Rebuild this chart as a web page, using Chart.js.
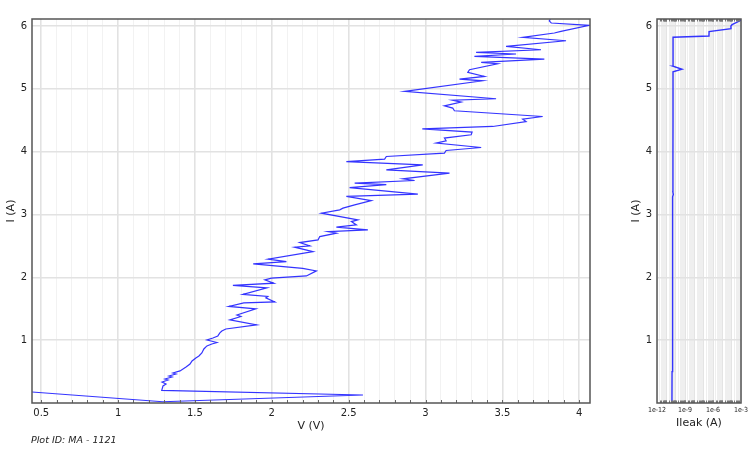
<!DOCTYPE html>
<html><head><meta charset="utf-8">
<script src="https://cdn.jsdelivr.net/npm/chart.js@4.4.1/dist/chart.umd.min.js"></script>
<style>
html,body{margin:0;padding:0;background:#fff;}
body{width:753px;height:449px;position:relative;overflow:hidden;font-family:"DejaVu Sans",sans-serif;}
#c1{position:absolute;left:0;top:0;}
#c2{position:absolute;left:620px;top:0;}
#pid{position:absolute;left:31px;top:435px;font-style:italic;font-size:9.5px;line-height:10px;color:#222;white-space:nowrap;}
</style></head><body>
<canvas id="c1" width="600" height="449"></canvas>
<canvas id="c2" width="133" height="449"></canvas>
<div id="pid">Plot ID: MA - 1121</div>
<script>
// ---- data ----
const voltage = [0.44,1.29,2.593,1.284,
 1.292,1.312,1.286,1.325,1.305,1.351,1.331,1.377,1.357,1.403,
 1.442,1.468,1.481,1.506,1.526,1.545,1.558,1.578,1.610,1.643,
 1.578,1.617,1.649,1.662,1.675,1.701,1.901,1.727,1.799,1.773,
 1.896,1.721,1.818,2.019,1.961,1.974,1.812,1.968,1.747,2.013,
 1.955,1.998,2.225,2.290,2.201,1.879,2.095,1.976,2.268,2.149,
 2.247,2.182,2.301,2.312,2.420,2.366,2.625,2.420,2.550,2.518,
 2.560,2.323,2.442,2.463,2.539,2.647,2.485,2.950,2.506,2.745,
 2.539,2.929,2.853,3.156,2.745,2.982,2.485,2.734,2.745,3.123,
 3.134,3.362,3.069,3.134,3.123,3.297,3.303,2.979,3.437,3.654,
 3.632,3.762,3.188,3.177,3.123,3.232,3.177,3.459,2.864,3.372,
 3.221,3.383,3.275,3.286,3.469,3.362,3.773,3.318,3.589,3.329,
 3.751,3.524,3.914,3.632,3.838,3.881,4.065,3.818,3.805,3.812];
const current = [0.175,0.02,0.127,0.202,
 0.271,0.303,0.334,0.366,0.382,0.414,0.430,0.462,0.478,0.510,
 0.573,0.621,0.669,0.717,0.748,0.796,0.860,0.908,0.939,0.963,
 1.003,1.035,1.067,1.115,1.146,1.178,1.242,1.322,1.377,1.401,
 1.497,1.537,1.592,1.608,1.672,1.696,1.728,1.831,1.871,1.906,
 1.959,1.986,2.022,2.102,2.142,2.213,2.250,2.288,2.409,2.479,
 2.500,2.553,2.596,2.648,2.702,2.728,2.755,2.798,2.834,2.887,
 2.914,3.021,3.073,3.100,3.153,3.221,3.288,3.323,3.428,3.476,
 3.498,3.540,3.567,3.658,3.710,3.790,3.842,3.881,3.922,3.976,
 4.018,4.065,4.135,4.172,4.215,4.268,4.311,4.363,4.400,4.479,
 4.518,4.559,4.650,4.693,4.729,4.788,4.817,4.841,4.957,5.127,
 5.154,5.196,5.260,5.303,5.398,5.419,5.473,5.514,5.553,5.578,
 5.621,5.674,5.764,5.817,5.887,5.912,6.008,6.046,6.078,6.107];
const leakCurrentAxis = [0.02,0.5,1.0,1.6,1.65,1.7,2.5,3.28,3.32,3.36,4.0,4.5,5.0,5.27,5.31,5.36,5.5,5.82,5.84,5.91,5.955,6.0,6.02,6.09,6.11];
const leakValues = [4.0e-11,4.1e-11,4.3e-11,4.5e-11,5.0e-11,4.6e-11,4.8e-11,5.0e-11,5.6e-11,5.0e-11,5.1e-11,5.2e-11,5.2e-11,5.2e-11,4.8e-10,5.2e-11,5.2e-11,5.3e-11,3.7e-7,3.8e-7,8.5e-5,8.3e-5,1.1e-4,1.0e-3,1.0e-3];

// ---- ticks ----
const vGrid = [0.5,0.6,0.7,0.8,0.9,1.0,1.1,1.2,1.3,1.4,1.5,1.6,1.7,1.8,1.9,2.0,2.1,2.2,2.3,2.4,2.5,2.6,2.7,2.8,2.9,3.0,3.1,3.2,3.3,3.4,3.5,3.6,3.7,3.8,3.9,4.0];
const vTickLabels = ['0.5','1','1.5','2','2.5','3','3.5','4'];
const iTicks = [1,2,3,4,5,6];
const leakDecades = [-12,-11,-10,-9,-8,-7,-6,-5,-4];
const leakTickLabels = {'-12':'1e-12','-9':'1e-9','-6':'1e-6','-3':'1e-3'};
const leakGrid = [];
leakDecades.forEach(e=>{for(let k=1;k<=9;k++) leakGrid.push(k*Math.pow(10,e));});
leakGrid.push(1e-3);

const FONT = "'DejaVu Sans', sans-serif";
const isMajorV = v => Math.abs(v*2 - Math.round(v*2)) < 1e-6;
const decadeOf = v => { const e = Math.log10(v); return Math.abs(e-Math.round(e))<1e-6 ? Math.round(e) : null; };

const framePlugin = {
  id:'frame',
  afterDatasetsDraw(chart, args, o){
    const {ctx, chartArea:a} = chart;
    const xs = chart.scales.x;
    ctx.save();
    ctx.strokeStyle = o.tickColor; ctx.lineWidth = 1;
    ctx.beginPath();
    xs.ticks.forEach(t=>{
      const px = Math.round(xs.getPixelForValue(t.value))+0.5;
      if (px < a.left+1 || px > a.right-1) return;
      if (o.bottom){ctx.moveTo(px,a.bottom); ctx.lineTo(px,a.bottom-o.len);}
      if (o.top){ctx.moveTo(px,a.top); ctx.lineTo(px,a.top+o.len);}
    });
    ctx.stroke();
    ctx.strokeStyle = o.color; ctx.lineWidth = o.width;
    ctx.strokeRect(a.left, a.top, a.right-a.left, a.bottom-a.top);
    ctx.restore();
  }
};

new Chart(document.getElementById('c1'), {
  type:'line',
  data:{datasets:[{
    data: voltage.map((v,i)=>({x:v, y:current[i]})),
    borderColor:'rgba(30,30,255,0.9)', borderWidth:1.2, pointRadius:0, tension:0, fill:false
  }]},
  options:{
    responsive:false, animation:false, devicePixelRatio:1,
    layout:{padding:{left:0,right:10,top:19,bottom:0}},
    plugins:{legend:{display:false}, tooltip:{enabled:false},
      frame:{color:'#555', width:1.5, tickColor:'#666', len:3, bottom:true, top:false}},
    scales:{
      x:{type:'linear', min:0.44, max:4.07,
        afterBuildTicks: s=>{ s.ticks = vGrid.map(v=>({value:v})); },
        afterFit: s=>{ s.height = 46; },
        ticks:{autoSkip:false, maxRotation:0, padding:4, color:'#222', font:{family:FONT,size:10},
          callback:(v)=> isMajorV(v) ? vTickLabels[Math.round((v-0.5)*2)] : ''},
        grid:{drawTicks:false, color: c => (c.tick && isMajorV(c.tick.value)) ? '#e2e2e2' : '#f2f2f2',
          lineWidth: c => (c.tick && isMajorV(c.tick.value)) ? 1.6 : 1},
        border:{display:false},
        title:{display:true, text:'V (V)', color:'#222', font:{family:FONT,size:11}, padding:{top:0,bottom:16}}
      },
      y:{type:'linear', min:0, max:6.11,
        afterBuildTicks: s=>{ s.ticks = iTicks.map(v=>({value:v})); },
        afterFit: s=>{ s.width = 32; },
        ticks:{padding:5, color:'#222', font:{family:FONT,size:10}, callback:v=>String(v)},
        grid:{drawTicks:false, color:'#e2e2e2', lineWidth:1.6},
        border:{display:false},
        title:{display:true, text:'I (A)', color:'#222', font:{family:FONT,size:11}, padding:{top:5,bottom:0}}
      }
    }
  },
  plugins:[framePlugin]
});

new Chart(document.getElementById('c2'), {
  type:'line',
  data:{datasets:[{
    data: leakValues.map((v,i)=>({x:v, y:leakCurrentAxis[i]})),
    borderColor:'rgba(30,30,255,0.9)', borderWidth:1.4, pointRadius:0, tension:0, fill:false
  }]},
  options:{
    responsive:false, animation:false, devicePixelRatio:1,
    layout:{padding:{left:0,right:12,top:19,bottom:0}},
    plugins:{legend:{display:false}, tooltip:{enabled:false},
      frame:{color:'#555', width:1.5, tickColor:'#777', len:2.5, bottom:true, top:true}},
    scales:{
      x:{type:'logarithmic', min:1e-12, max:1e-3,
        afterBuildTicks: s=>{ s.ticks = leakGrid.map(v=>({value:v})); },
        afterFit: s=>{ s.height = 46; },
        ticks:{autoSkip:false, maxRotation:0, padding:3, color:'#222',
          font:{family:"'DejaVu Sans Condensed','DejaVu Sans',sans-serif", size:7},
          callback:(v)=>{ const d = decadeOf(v); return (d!==null && leakTickLabels[String(d)]) ? leakTickLabels[String(d)] : ''; }},
        grid:{drawTicks:false, color: c => (c.tick && decadeOf(c.tick.value)!==null) ? '#e4e4e4' : '#efefef', lineWidth:1},
        border:{display:false},
        title:{display:true, text:'Ileak (A)', color:'#222', font:{family:FONT,size:11}, padding:{top:0,bottom:19}}
      },
      y:{type:'linear', min:0, max:6.11,
        afterBuildTicks: s=>{ s.ticks = iTicks.map(v=>({value:v})); },
        afterFit: s=>{ s.width = 37; },
        ticks:{padding:5, color:'#222', font:{family:FONT,size:10}, callback:v=>String(v)},
        grid:{drawTicks:false, color:'#e2e2e2', lineWidth:1.6},
        border:{display:false},
        title:{display:true, text:'I (A)', color:'#222', font:{family:FONT,size:11}, padding:{top:10,bottom:0}}
      }
    }
  },
  plugins:[framePlugin]
});
</script>
</body></html>
